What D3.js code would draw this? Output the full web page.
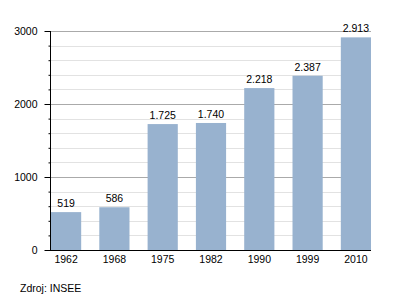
<!DOCTYPE html>
<html>
<head>
<meta charset="utf-8">
<script src="https://cdn.jsdelivr.net/npm/d3@7"></script>
<style>
  body { margin: 0; background: #fff; }
  text { font-family: "Liberation Sans", Arial, sans-serif; fill: #000; }
</style>
</head>
<body>
<div id="chart"></div>
<script>
const w = 400;
const h = 300;

const years = ["1962", "1968", "1975", "1982", "1990", "1999", "2010"];
const population = [519, 586, 1725, 1740, 2218, 2387, 2913];
const yTicks = [0, 1000, 2000, 3000];
const sourceText = "Zdroj: INSEE";

const plotLeft = 50, plotRight = 371, plotTop = 31, plotBottom = 250;
const fs = 10.5;

const svg = d3.select("#chart")
  .append("svg")
  .attr("width", w)
  .attr("height", h);

const x = d3.scaleBand()
  .domain(years)
  .range([plotLeft + 1, plotRight])
  .paddingInner(0.375)
  .paddingOuter(0);

const y = d3.scaleLinear()
  .domain([0, 3000])
  .range([plotBottom, plotTop]);

// gridlines
const minor = d3.range(200, 3001, 200).filter(v => v % 1000 !== 0);
svg.append("g")
  .selectAll("line")
  .data(minor)
  .join("line")
  .attr("x1", plotLeft).attr("x2", plotRight)
  .attr("y1", d => Math.round(y(d)) + 0.5)
  .attr("y2", d => Math.round(y(d)) + 0.5)
  .attr("stroke", "#e2e2e2");

svg.append("g")
  .selectAll("line")
  .data(yTicks.filter(d => d > 0))
  .join("line")
  .attr("x1", plotLeft).attr("x2", plotRight)
  .attr("y1", d => Math.round(y(d)) + 0.5)
  .attr("y2", d => Math.round(y(d)) + 0.5)
  .attr("stroke", "#aaaaaa");

// bars
svg.append("g")
  .selectAll("rect")
  .data(population)
  .join("rect")
  .attr("x", (d, i) => x(years[i]))
  .attr("y", d => y(d))
  .attr("width", x.bandwidth())
  .attr("height", d => plotBottom - y(d))
  .attr("fill", "#98b2cf");

// value labels
const fmt = d3.formatLocale({ decimal: ",", thousands: ".", grouping: [3], currency: ["", ""] }).format(",");
svg.append("g")
  .selectAll("text")
  .data(population)
  .join("text")
  .attr("x", (d, i) => x(years[i]) + x.bandwidth() / 2)
  .attr("y", d => y(d) - 5)
  .attr("text-anchor", "middle")
  .attr("font-size", fs)
  .text(d => fmt(d));

// y axis
const yAxis = d3.axisLeft(y)
  .tickValues(d3.range(0, 3001, 200))
  .tickSize(0)
  .tickFormat(d => yTicks.includes(d) ? d : "");
const gy = svg.append("g")
  .attr("transform", `translate(${plotLeft + 0.5},0)`)
  .call(yAxis);
gy.select(".domain").remove();
gy.selectAll(".tick line")
  .attr("x1", d => yTicks.includes(d) ? -6 : -2)
  .attr("stroke", "#000");
gy.selectAll(".tick text")
  .attr("x", -13)
  .attr("font-size", fs)
  .attr("font-family", "Liberation Sans, Arial, sans-serif");

svg.append("line")
  .attr("x1", plotLeft + 0.5).attr("x2", plotLeft + 0.5)
  .attr("y1", plotTop).attr("y2", plotBottom)
  .attr("stroke", "#000");

// x axis
const xAxis = d3.axisBottom(x).tickSize(0).tickPadding(6);
const gx = svg.append("g")
  .attr("transform", `translate(0,${plotBottom})`)
  .call(xAxis);
gx.select(".domain").remove();
gx.selectAll(".tick text")
  .attr("font-size", fs)
  .attr("font-family", "Liberation Sans, Arial, sans-serif");

svg.append("line")
  .attr("x1", plotLeft).attr("x2", plotRight)
  .attr("y1", plotBottom + 0.5).attr("y2", plotBottom + 0.5)
  .attr("stroke", "#000");

svg.append("text")
  .attr("x", 20)
  .attr("y", 292)
  .attr("font-size", fs)
  .text(sourceText);
</script>
</body>
</html>
